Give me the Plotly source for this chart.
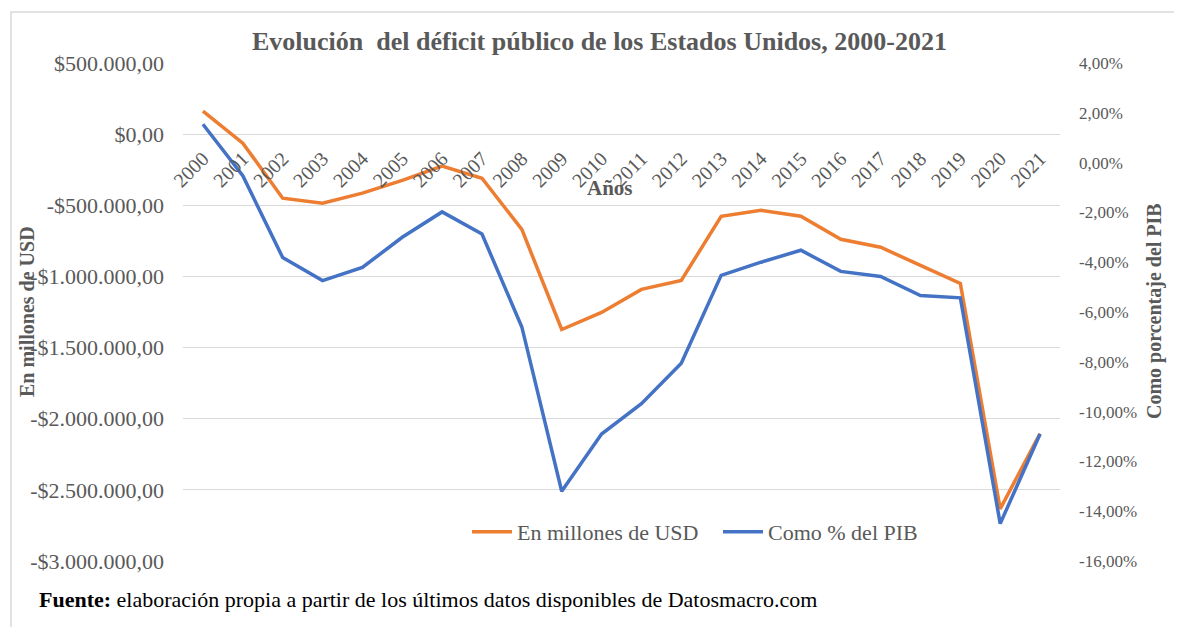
import plotly.graph_objects as go

years = ["2000", "2001", "2002", "2003", "2004", "2005", "2006", "2007", "2008", "2009", "2010",
         "2011", "2012", "2013", "2014", "2015", "2016", "2017", "2018", "2019", "2020", "2021"]
usd_millions = [162000, -63000, -450000, -485000, -415000, -325000, -225000, -310000, -670000,
                -1373000, -1253000, -1091000, -1028000, -577000, -535000, -577000, -739000,
                -795000, -922000, -1049000, -2634000, -2105000]
pct_gdp = [1.54, -0.53, -3.81, -4.74, -4.21, -3.0, -1.98, -2.87, -6.6, -13.2, -10.9, -9.68,
           -8.06, -4.53, -4.0, -3.52, -4.37, -4.57, -5.34, -5.43, -14.5, -10.9]

left_ticks = [500000, 0, -500000, -1000000, -1500000, -2000000, -2500000, -3000000]
left_labels = ["$500.000,00", "$0,00", "-$500.000,00", "-$1.000.000,00", "-$1.500.000,00",
               "-$2.000.000,00", "-$2.500.000,00", "-$3.000.000,00"]
right_ticks = [4, 2, 0, -2, -4, -6, -8, -10, -12, -14, -16]
right_labels = ["4,00%", "2,00%", "0,00%", "-2,00%", "-4,00%", "-6,00%", "-8,00%", "-10,00%",
                "-12,00%", "-14,00%", "-16,00%"]

# page body has an 8px margin: work in reference pixel coords and shift
OFF = 8
W, H = 1182 - OFF, 627 - OFF
PL, PR, PT, PB = 183, 1060, 63, 561  # plot area in reference pixels
L, T = PL - OFF, PT - OFF
R, B = W - (PR - OFF), H - (PB - OFF)
PW, PH = W - L - R, H - T - B


def xp(px):
    return (px - OFF - L) / PW


def yp(py):
    return (H - B - (py - OFF)) / PH


FONT = "Liberation Serif"
GRAY = "#595959"

fig = go.Figure()
fig.add_trace(go.Scatter(x=years, y=usd_millions, name="En millones de USD", mode="lines",
                         line=dict(color="#ED7D31", width=3.5), yaxis="y"))
fig.add_trace(go.Scatter(x=years, y=pct_gdp, name="Como % del PIB", mode="lines",
                         line=dict(color="#4472C4", width=3.5), yaxis="y2"))

ymin, ymax = -3000000, 500000
zero_pos = (0 - ymin) / (ymax - ymin)

fig.update_layout(
    width=W, height=H,
    margin=dict(l=L, r=R, t=T, b=B, autoexpand=False),
    paper_bgcolor="white", plot_bgcolor="white",
    font=dict(family=FONT, color=GRAY),
    showlegend=True,
    legend=dict(orientation="h", x=xp(467), y=yp(532), xanchor="left", yanchor="middle",
                font=dict(size=22, color=GRAY, family=FONT), bgcolor="rgba(0,0,0,0)",
                entrywidth=196, entrywidthmode="pixels", itemwidth=40, tracegroupgap=0),
    xaxis=dict(type="category", range=[-0.5, 21.5], anchor="free", position=zero_pos,
               showgrid=False, showline=False, zeroline=False, ticks="", tickangle=-45,
               tickfont=dict(size=20, color=GRAY, family=FONT), ticklabelstandoff=8),
    yaxis=dict(range=[ymin, ymax], tickvals=left_ticks, ticktext=left_labels,
               showgrid=True, gridcolor="#D9D9D9", gridwidth=1, zeroline=False,
               showline=False, ticks="", ticklabelstandoff=18,
               tickfont=dict(size=22, color=GRAY, family=FONT)),
    yaxis2=dict(range=[-16, 4], tickvals=right_ticks, ticktext=right_labels,
                overlaying="y", side="right", showgrid=False, zeroline=False,
                showline=False, ticks="", ticklabelstandoff=18,
                tickfont=dict(size=17, color=GRAY, family=FONT)),
)

annotations = [
    dict(text="<b>Evolución  del déficit público de los Estados Unidos, 2000-2021</b>",
         x=xp(599), y=yp(42), font=dict(size=26, color=GRAY, family=FONT)),
    dict(text="<b>Años</b>", x=xp(610), y=yp(188), font=dict(size=21, color=GRAY, family=FONT)),
    dict(text="<b>En millones de USD</b>", x=xp(27), y=yp(312), textangle=-90,
         font=dict(size=20, color=GRAY, family=FONT)),
    dict(text="<b>Como porcentaje del PIB</b>", x=xp(1154), y=yp(311), textangle=-90,
         font=dict(size=20, color=GRAY, family=FONT)),
    dict(text="<b>Fuente:</b> elaboración propia a partir de los últimos datos disponibles de Datosmacro.com",
         x=xp(37), y=yp(599), xanchor="left", font=dict(size=22, color="black", family=FONT)),
]
for a in annotations:
    a.setdefault("xanchor", "center")
    a.update(xref="paper", yref="paper", yanchor="middle", showarrow=False)
fig.update_layout(annotations=annotations)

fig.add_shape(type="rect", xref="paper", yref="paper", x0=xp(11), y0=yp(660), x1=xp(1220), y1=yp(12),
              line=dict(color="#D9D9D9", width=1.5), fillcolor="rgba(0,0,0,0)", layer="below")

fig.write_html("out.html")
